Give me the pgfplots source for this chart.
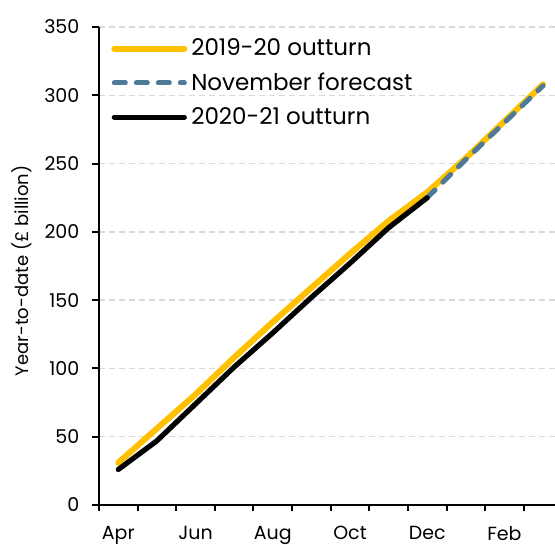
\documentclass[border=0pt]{standalone}
\usepackage{pgfplots}
\pgfplotsset{compat=1.18}
\usepackage{fontspec}
\setmainfont{Poppins}

\definecolor{obryellow}{HTML}{FFC000}
\definecolor{obrblue}{HTML}{4D7A97}
\definecolor{gridgray}{HTML}{D9D9D9}

\begin{document}
\begin{tikzpicture}
\begin{axis}[
  name=ax,
  scale only axis,
  width=228pt, height=239pt,
  xmin=-0.5, xmax=11.31,
  ymin=0, ymax=350,
  axis x line*=bottom,
  axis y line*=left,
  axis line style={line width=1pt, black},
  xtick={0,2,4,6,8,10},
  xticklabels={Apr,Jun,Aug,Oct,Dec,Feb},
  minor xtick={-0.5,0.5,...,11.5},
  major x tick style={draw=none},
  minor x tick style={black, line width=1pt},
  minor tick length=3pt,
  ytick={0,50,...,350},
  major tick length=3.5pt,
  y tick style={black, line width=1pt},
  tick align=outside,
  ymajorgrids,
  major grid style={gridgray, dash pattern=on 3pt off 2pt, line width=0.75pt},
  /pgf/number format/assume math mode=true,
  ticklabel style={font=\fontsize{9.5}{11}\selectfont},
  yticklabel style={xshift=-2.8pt},
  xticklabel style={yshift=-3.5pt},
  ylabel={Year-to-date (£ billion)},
  ylabel style={at={(axis description cs:-0.169,0.49)}, anchor=center,
    font=\fontsize{9}{10}\selectfont},
  legend cell align=left,
  legend image code/.code={\draw[#1, line cap=round] (0pt,0pt) -- (35pt,0pt);},
  legend style={at={(axis description cs:0.013,0.993)}, anchor=north west,
    draw=none, fill=none, row sep=3pt,
    font=\fontsize{11.5}{13}\selectfont},
]
% 2019-20 outturn
\addplot[obryellow, line width=3pt, line cap=round, line join=round] coordinates {
  (0,31) (1,56) (2,81) (3,108) (4,134) (5,159) (6,184) (7,208)
  (8,229) (9,254) (10,281) (11,308)
};
\addlegendentry{2019-20 outturn}
% November forecast
\addplot[obrblue, line width=2.5pt, line cap=round, dash pattern=on 5.5pt off 5.5pt] coordinates {
  (8,225) (9,253) (10,280) (11,307)
};
\addlegendentry{November forecast}
% 2020-21 outturn
\addplot[black, line width=2.6pt, line cap=round, line join=round] coordinates {
  (0,26) (1,47) (2,74) (3,101) (4,126) (5,152) (6,177) (7,203) (8,225)
};
\addlegendentry{2020-21 outturn}
\end{axis}
\pgfresetboundingbox
\path[use as bounding box] ([shift={(-49.5pt,-19.75pt)}]ax.south west)
  rectangle ([shift={(0pt,13.5pt)}]ax.north east);
\end{tikzpicture}
\end{document}
